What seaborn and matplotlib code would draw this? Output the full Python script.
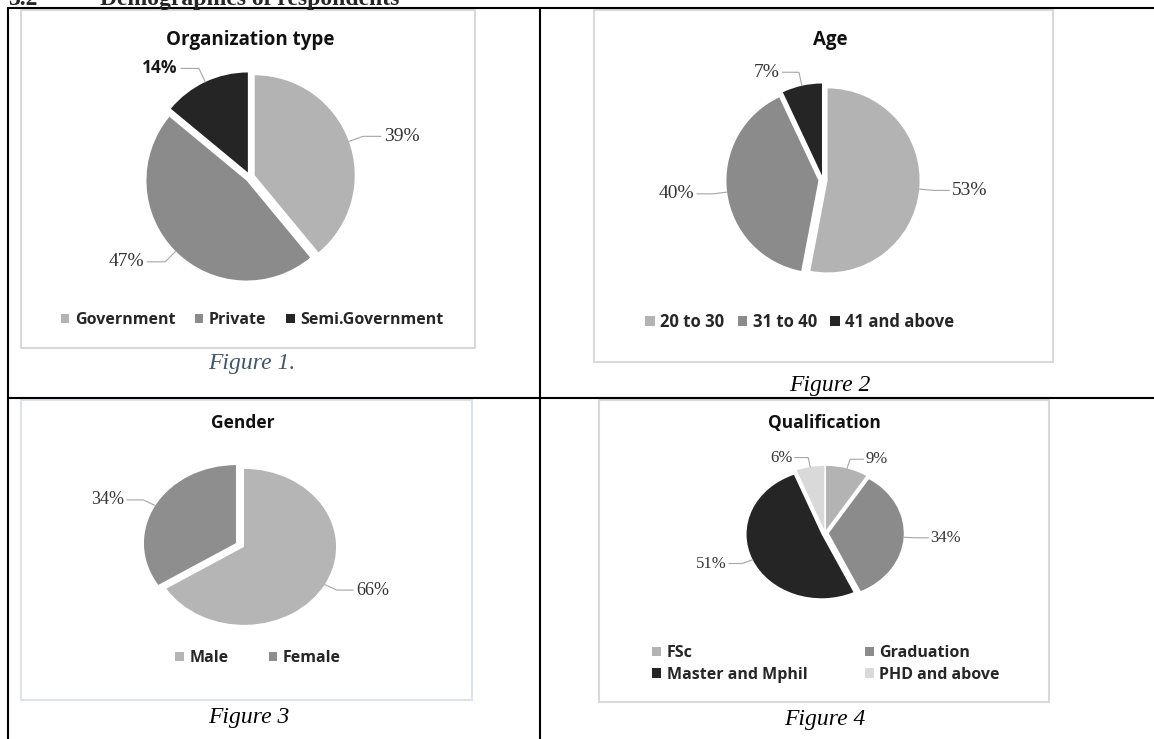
import numpy as np
import matplotlib
matplotlib.use('Agg')
import matplotlib.pyplot as plt
from matplotlib.lines import Line2D
from matplotlib.patches import Rectangle
import seaborn as sns

# ---------------- datos ----------------
org_labels = ['Government', 'Private', 'Semi.Government']
org_values = [39, 47, 14]

age_labels = ['20 to 30', '31 to 40', '41 and above']
age_values = [53, 40, 7]

gender_labels = ['Male', 'Female']
gender_values = [66, 34]

qual_labels = ['FSc', 'Graduation', 'Master and Mphil', 'PHD and above']
qual_values = [9, 34, 51, 6]

light, mid, dark, pale = '#b3b3b3', '#8b8b8b', '#252525', '#d9d9d9'

sns.set_style('white')
plt.rcParams['font.family'] = ['DejaVu Sans']

W, H = 1154, 739
fig = plt.figure(figsize=(W / 100, H / 100), dpi=100)


def fx(px):
    return px / W


def fy(py):
    return 1 - py / H


def hline(y, x0, x1, color='black', lw=1.5):
    fig.add_artist(Line2D([fx(x0), fx(x1)], [fy(y), fy(y)], transform=fig.transFigure,
                          color=color, lw=lw, solid_capstyle='butt'))


def vline(x, y0, y1, color='black', lw=1.5):
    fig.add_artist(Line2D([fx(x), fx(x)], [fy(y0), fy(y1)], transform=fig.transFigure,
                          color=color, lw=lw, solid_capstyle='butt'))


def frame(x0, y0, x1, y1, color='#d9d9d9'):
    fig.add_artist(Rectangle((fx(x0), fy(y1)), fx(x1) - fx(x0), fy(y0) - fy(y1),
                             transform=fig.transFigure, fill=False, edgecolor=color, lw=1.5))


def draw_pie(cx, cy, rx, ry, values, colors, label_fs=12, explode=0.05, bold_idx=None):
    L = 1.9
    ax = fig.add_axes([fx(cx - rx * L), fy(cy + ry * L), 2 * rx * L / W, 2 * ry * L / H])
    wedges, _ = ax.pie(values, colors=colors, startangle=90, counterclock=False,
                       explode=[explode] * len(values), wedgeprops=dict(linewidth=0))
    ax.set_aspect('auto')
    ax.set_xlim(-L, L)
    ax.set_ylim(-L, L)
    ax.axis('off')
    for i, (w, v) in enumerate(zip(wedges, values)):
        ang = np.deg2rad((w.theta1 + w.theta2) / 2)
        dx, dy = np.cos(ang), np.sin(ang)
        s = 1 if dx >= 0 else -1
        e0 = (1 + explode) * dx, (1 + explode) * dy
        e1 = (1 + explode + 0.15) * dx, (1 + explode + 0.15) * dy
        e2 = e1[0] + s * 0.18, e1[1]
        ax.plot([e0[0], e1[0], e2[0]], [e0[1], e1[1], e2[1]], color='#a6a6a6', lw=0.8)
        if i == bold_idx:
            ax.text(e2[0] + s * 0.03, e2[1], f'{v}%', ha='left' if s > 0 else 'right',
                    va='center', fontsize=label_fs, family='Open Sans', weight='bold', color='#1a1a1a')
        else:
            ax.text(e2[0] + s * 0.03, e2[1], f'{v}%', ha='left' if s > 0 else 'right',
                    va='center', fontsize=label_fs + 1.5, family='Liberation Serif', color='#333333')
    return wedges


def legend(wedges, labels, x, y, fs, ncol, colsp, order=None, lsp=0.25):
    if order is None:
        order = range(len(labels))
    fig.legend([wedges[i] for i in order], [labels[i] for i in order], loc='center',
               bbox_to_anchor=(fx(x), fy(y)), ncol=ncol, frameon=False,
               handlelength=0.55, handleheight=0.55, handletextpad=0.35,
               columnspacing=colsp, labelspacing=lsp,
               prop=dict(family='Open Sans', weight='bold', size=fs))


def title(x, y, txt, fs):
    fig.text(fx(x), fy(y), txt, ha='center', va='center', family='Open Sans',
             weight='bold', fontsize=fs, color='#111111')


def caption(x, y, txt, color='black'):
    fig.text(fx(x), fy(y), txt, ha='center', va='center', family='Liberation Serif',
             style='italic', fontsize=17, color=color)


# encabezado (cortado en el borde superior como en la original)
fig.text(fx(8), fy(5), '3.2', family='Liberation Serif', weight='bold', fontsize=17, va='baseline')
fig.text(fx(100), fy(5), 'Demographics of respondents', family='Liberation Serif', weight='bold',
         fontsize=17, va='baseline')

# cuadrícula de la tabla
hline(8, 7, W)
hline(398, 7, W)
vline(8, 8, H)
vline(540, 8, H)

# marcos grises de cada gráfica
frame(21, 10, 475, 348)
frame(594, 10, 1053, 362)
frame(21, 400, 472, 700, color='#dde2e8')
frame(599, 400, 1049, 702)

# -------- Figura 1 --------
title(250, 40, 'Organization type', 13.5)
w1 = draw_pie(250, 177, 100, 100, org_values, [light, mid, dark], label_fs=12.5, bold_idx=2)
legend(w1, org_labels, 252, 320, 11.5, 3, 1.2)
caption(252, 363, 'Figure 1.', color='#44546a')

# -------- Figura 2 --------
title(830, 40, 'Age', 13.5)
w2 = draw_pie(823, 180, 92, 92, age_values, [light, mid, dark], label_fs=12.5)
legend(w2, age_labels, 800, 322, 12, 3, 0.8)
caption(830, 385, 'Figure 2')

# -------- Figura 3 --------
title(243, 423, 'Gender', 12.5)
w3 = draw_pie(240, 545, 92, 78, gender_values, ['#b5b5b5', '#8e8e8e'], label_fs=11.5)
legend(w3, gender_labels, 258, 658, 11.5, 2, 2.5)
caption(249, 718, 'Figure 3')

# -------- Figura 4 --------
title(824, 423, 'Qualification', 12.5)
w4 = draw_pie(825, 533, 75, 64, qual_values, [light, mid, dark, pale], label_fs=10.5)
legend(w4, qual_labels, 826, 664, 11.5, 2, 3.6, order=[0, 2, 1, 3], lsp=0.35)
caption(825, 720, 'Figure 4')

plt.savefig('out.png', dpi=100)
